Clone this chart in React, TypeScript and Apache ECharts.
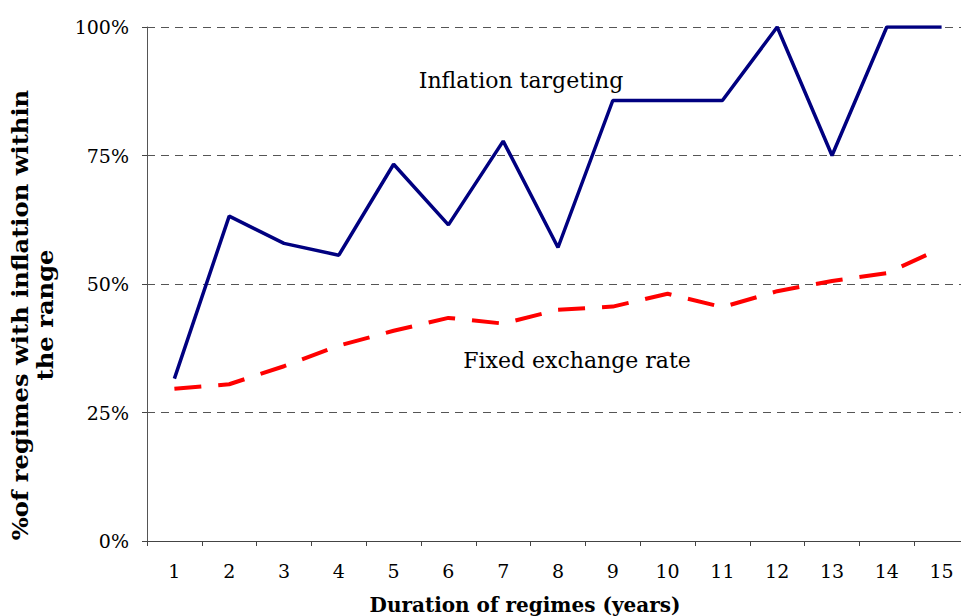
import React, { useEffect, useRef } from "react";
import * as echarts from "echarts";

const durations = ["1", "2", "3", "4", "5", "6", "7", "8", "9", "10", "11", "12", "13", "14", "15"];
const inflationTargeting = [31.6, 63.2, 57.9, 55.6, 73.3, 61.5, 77.8, 57.1, 85.7, 85.7, 85.7, 100, 75, 100, 100];
const fixedExchangeRate = [29.6, 30.5, 34.0, 38.0, 40.9, 43.4, 42.3, 45.0, 45.6, 48.1, 45.5, 48.6, 50.6, 52.1, 57.0];
const yTicks = { min: 0, max: 100, interval: 25 };

const FONT = "'DejaVu Serif', serif";

export default function App() {
  const ref = useRef<HTMLDivElement>(null);
  useEffect(() => {
    if (!ref.current) return;
    const chart = echarts.init(ref.current, undefined, { renderer: "svg" });
    chart.setOption({
      animation: false,
      backgroundColor: "#ffffff",
      grid: { left: 147, top: 27, right: 6, bottom: 75, containLabel: false },
      xAxis: {
        type: "category",
        data: durations,
        boundaryGap: true,
        axisLine: { lineStyle: { color: "#444", width: 1 } },
        axisTick: { show: true, length: 5, alignWithLabel: false, lineStyle: { color: "#444" } },
        axisLabel: { color: "#000", fontFamily: FONT, fontSize: 19, margin: 20 },
        splitLine: { show: false },
      },
      yAxis: {
        type: "value",
        min: yTicks.min,
        max: yTicks.max,
        interval: yTicks.interval,
        axisLine: { show: true, lineStyle: { color: "#555", width: 1 } },
        axisTick: { show: true, length: 5, lineStyle: { color: "#444" } },
        axisLabel: { color: "#000", fontFamily: FONT, fontSize: 19, margin: 18, formatter: "{value}%" },
        splitLine: { show: true, lineStyle: { color: "#555", width: 1, type: [8, 6] } },
      },
      series: [
        {
          name: "Inflation targeting",
          type: "line",
          data: inflationTargeting,
          symbol: "none",
          lineStyle: { color: "#000080", width: 3.5 },
          z: 3,
        },
        {
          name: "Fixed exchange rate",
          type: "line",
          data: fixedExchangeRate,
          symbol: "none",
          lineStyle: { color: "#ff0000", width: 4, type: [27, 17], cap: "butt" },
          z: 2,
        },
      ],
      graphic: [
        {
          type: "text",
          x: 521,
          y: 80,
          style: { text: "Inflation targeting", font: `22px ${FONT}`, fill: "#000", textAlign: "center", textVerticalAlign: "middle" },
        },
        {
          type: "text",
          x: 577,
          y: 360,
          style: { text: "Fixed exchange rate", font: `22px ${FONT}`, fill: "#000", textAlign: "center", textVerticalAlign: "middle" },
        },
        {
          type: "text",
          x: 525,
          y: 605,
          style: { text: "Duration of regimes (years)", font: `bold 20px ${FONT}`, fill: "#000", textAlign: "center", textVerticalAlign: "middle" },
        },
        {
          type: "text",
          x: 32,
          y: 315,
          rotation: Math.PI / 2,
          scaleX: 1.1,
          style: {
            text: "%of regimes with inflation within\nthe range",
            font: `bold 22px ${FONT}`,
            lineHeight: 25,
            fill: "#000",
            textAlign: "center",
            textVerticalAlign: "middle",
          },
        },
      ],
    });
    return () => chart.dispose();
  }, []);
  return (
    <div
      ref={ref}
      style={{ position: "fixed", left: 0, top: 0, width: 975, height: 616, background: "#fff" }}
    />
  );
}
